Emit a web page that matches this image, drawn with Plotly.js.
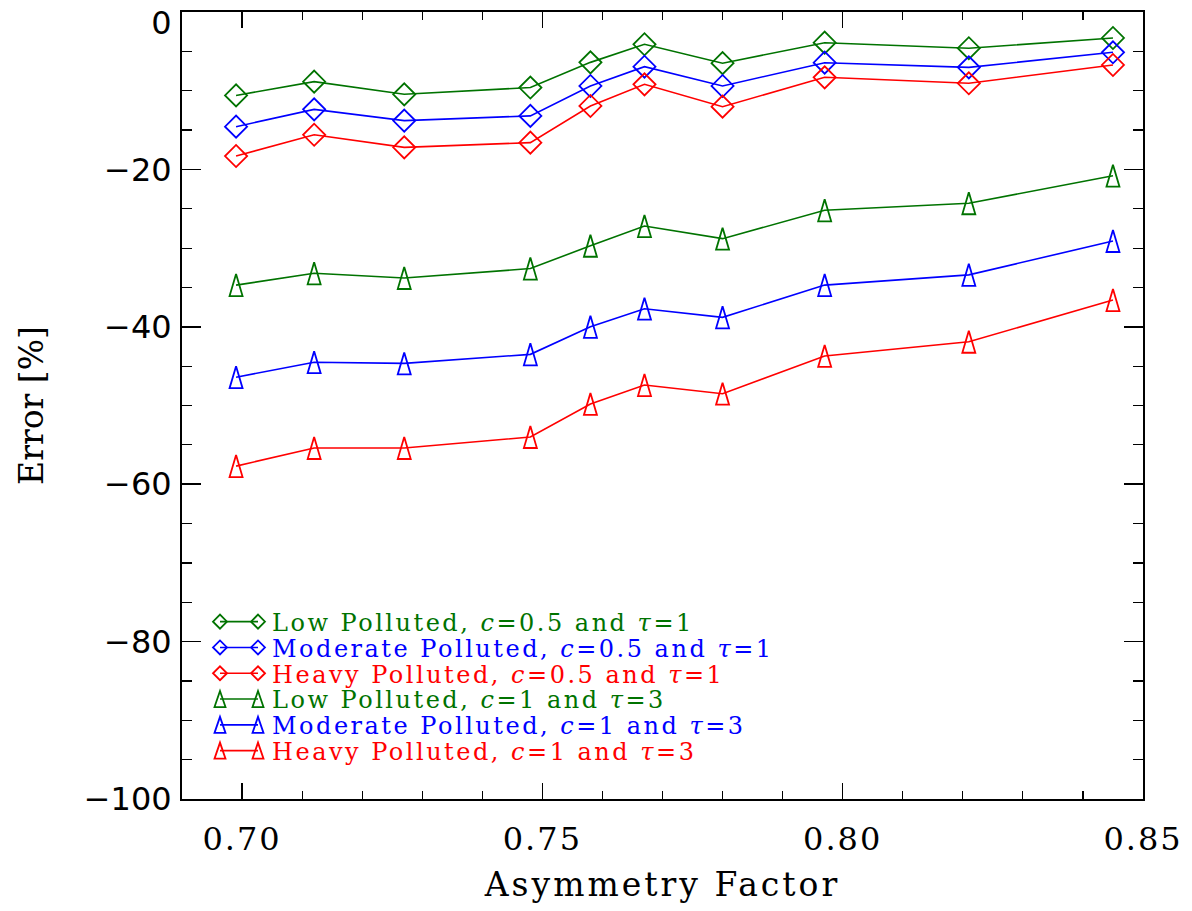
<!DOCTYPE html>
<html>
<head>
<meta charset="utf-8">
<script src="https://cdn.plot.ly/plotly-3.0.1.min.js"></script>
<style>
html,body{margin:0;padding:0;background:#fff}
#chart{width:1192px;height:911px}
.legendtext{letter-spacing:2.5px}
.xtitle{letter-spacing:3px}
.xtick text{letter-spacing:2px}
</style>
</head>
<body>
<div id="chart"></div>
<script>
// Asymmetry factor (x)
const asymmetry = [0.699, 0.712, 0.727, 0.748, 0.758, 0.767, 0.780, 0.797, 0.821, 0.845];
// Error [%] for c=0.5, tau=1 (diamonds)
const lowC05 = [-10.6, -8.85, -10.46, -9.6, -6.4, -4.1, -6.5, -3.9, -4.6, -3.3];
const modC05 = [-14.57, -12.37, -13.8, -13.2, -9.4, -6.95, -9.4, -6.44, -7.03, -5.12];
const heavyC05 = [-18.3, -15.6, -17.2, -16.6, -11.94, -9.19, -12.03, -8.3, -9.06, -6.73];
// Error [%] for c=1, tau=3 (triangles)
const lowC1 = [-34.7, -33.2, -33.8, -32.6, -29.7, -27.2, -28.8, -25.2, -24.3, -20.8];
const modC1 = [-46.4, -44.5, -44.65, -43.5, -40.0, -37.7, -38.8, -34.7, -33.4, -29.1];
const heavyC1 = [-57.7, -55.4, -55.4, -54.0, -49.8, -47.4, -48.5, -43.7, -41.9, -36.6];

const seriesNames = [
  'Low Polluted, <i>c</i>=0.5 and <i>τ</i>=1',
  'Moderate Polluted, <i>c</i>=0.5 and <i>τ</i>=1',
  'Heavy Polluted, <i>c</i>=0.5 and <i>τ</i>=1',
  'Low Polluted, <i>c</i>=1 and <i>τ</i>=3',
  'Moderate Polluted, <i>c</i>=1 and <i>τ</i>=3',
  'Heavy Polluted, <i>c</i>=1 and <i>τ</i>=3'
];
const seriesValues = [lowC05, modC05, heavyC05, lowC1, modC1, heavyC1];
const GREEN = '#007300', BLUE = '#0000ff', RED = '#ff0000';
const colors = [GREEN, BLUE, RED, GREEN, BLUE, RED];
const symbols = ['diamond-open','diamond-open','diamond-open','triangle-up-open','triangle-up-open','triangle-up-open'];

const traces = seriesValues.map((vals, i) => ({
  x: asymmetry,
  y: vals,
  type: 'scatter',
  mode: 'lines+markers',
  name: '<span style="color:' + colors[i] + '">' + seriesNames[i] + '</span>',
  line: {color: colors[i], width: 1.6},
  marker: {symbol: symbols[i], size: i < 3 ? 17 : 15, color: colors[i], line: {color: colors[i], width: 1.8}}
}));

const axisCommon = {
  showgrid: false, zeroline: false, showline: true, linecolor: '#000', linewidth: 2,
  mirror: 'ticks', ticks: 'inside', tickcolor: '#000', tickwidth: 1.5,
  ticklabeloverflow: 'allow'
};

const layout = {
  width: 1192, height: 911,
  margin: {l: 182, r: 49, t: 12, b: 112},
  paper_bgcolor: '#fff', plot_bgcolor: '#fff',
  showlegend: true,
  xaxis: Object.assign({}, axisCommon, {
    range: [0.69, 0.85], dtick: 0.05, tick0: 0.7, ticklen: 16, tickformat: '.2f',
    minor: {dtick: 0.01, ticklen: 8, ticks: 'inside', tickcolor: '#000', tickwidth: 1.2},
    tickfont: {family: 'DejaVu Serif', size: 32, color: '#000'},
    ticklabelstandoff: 11,
    title: {text: 'Asymmetry Factor', font: {family: 'DejaVu Serif', size: 33, color: '#000'}, standoff: 15}
  }),
  yaxis: Object.assign({}, axisCommon, {
    range: [-100, 0], dtick: 20, ticklen: 19,
    minor: {dtick: 5, ticklen: 10, ticks: 'inside', tickcolor: '#000', tickwidth: 1.2},
    tickfont: {family: 'DejaVu Sans', size: 32, color: '#000'},
    ticklabelstandoff: 2,
    title: {text: 'Error [%]', font: {family: 'DejaVu Serif', size: 33, color: '#000'}, standoff: 30}
  }),
  legend: {
    x: 0.035, y: 0.25, xanchor: 'left', yanchor: 'top',
    bgcolor: 'rgba(0,0,0,0)', borderwidth: 0,
    font: {family: 'DejaVu Serif', size: 24, color: '#000'},
    itemwidth: 30
  }
};

const TR = /translate\(\s*([-\d.e]+)[ ,]+([-\d.e]+)\s*\)/;

Plotly.newPlot('chart', traces, layout, {displayModeBar: false, staticPlot: true}).then(() => {
  const tallTri = 'M-6.5,11H6.5L0,-11Z';
  const smallTri = 'M-5.5,8H5.5L0,-8Z';
  const smallDia = 'M7,0L0,7L-7,0L0,-7Z';
  document.querySelectorAll('.scatterlayer .trace').forEach((tr, i) => {
    if (i >= 3) tr.querySelectorAll('path.point').forEach(p => p.setAttribute('d', tallTri));
  });
  // keep the top "0" label inside the picture, as in the reference
  document.querySelectorAll('.ytick text').forEach(t => {
    if (t.textContent.trim() === '0') {
      const y = parseFloat(t.getAttribute('y') || '0');
      t.setAttribute('y', y + 11);
    }
  });
  const leg = document.querySelector('.legend');
  // let the widened legend text show in full
  leg.querySelectorAll('[clip-path]').forEach(el => el.removeAttribute('clip-path'));
  leg.removeAttribute('clip-path');
  const items = leg.querySelectorAll('.traces');
  let y0 = null;
  items.forEach((it, i) => {
    it.querySelectorAll('path.scatterpts').forEach(p => {
      p.setAttribute('d', i >= 3 ? smallTri : smallDia);
      p.setAttribute('transform', 'translate(8,0)');
      const c = p.cloneNode(true);
      c.setAttribute('transform', 'translate(46,0)');
      p.parentNode.appendChild(c);
    });
    it.querySelectorAll('.legendlines path').forEach(p => p.setAttribute('d', 'M8,0h38'));
    const txt = it.querySelector('text.legendtext');
    if (txt) {
      txt.setAttribute('x', 60);
      txt.querySelectorAll('tspan[x]').forEach(s => s.setAttribute('x', 60));
    }
    const m = TR.exec(it.getAttribute('transform') || '');
    if (m) {
      if (y0 === null) y0 = parseFloat(m[2]);
      it.setAttribute('transform', 'translate(' + m[1] + ',' + (y0 + i * 25.8) + ')');
    }
  });
  // align the legend: first text starts at x=272, first row centre at y=623
  const t0 = items[0].querySelector('text.legendtext').getBoundingClientRect();
  const dx = 272 - t0.left, dy = 623 - (t0.top + t0.height / 2);
  const lm = TR.exec(leg.getAttribute('transform') || '');
  if (lm) leg.setAttribute('transform', 'translate(' + (parseFloat(lm[1]) + dx) + ',' + (parseFloat(lm[2]) + dy) + ')');
});
</script>
</body>
</html>
